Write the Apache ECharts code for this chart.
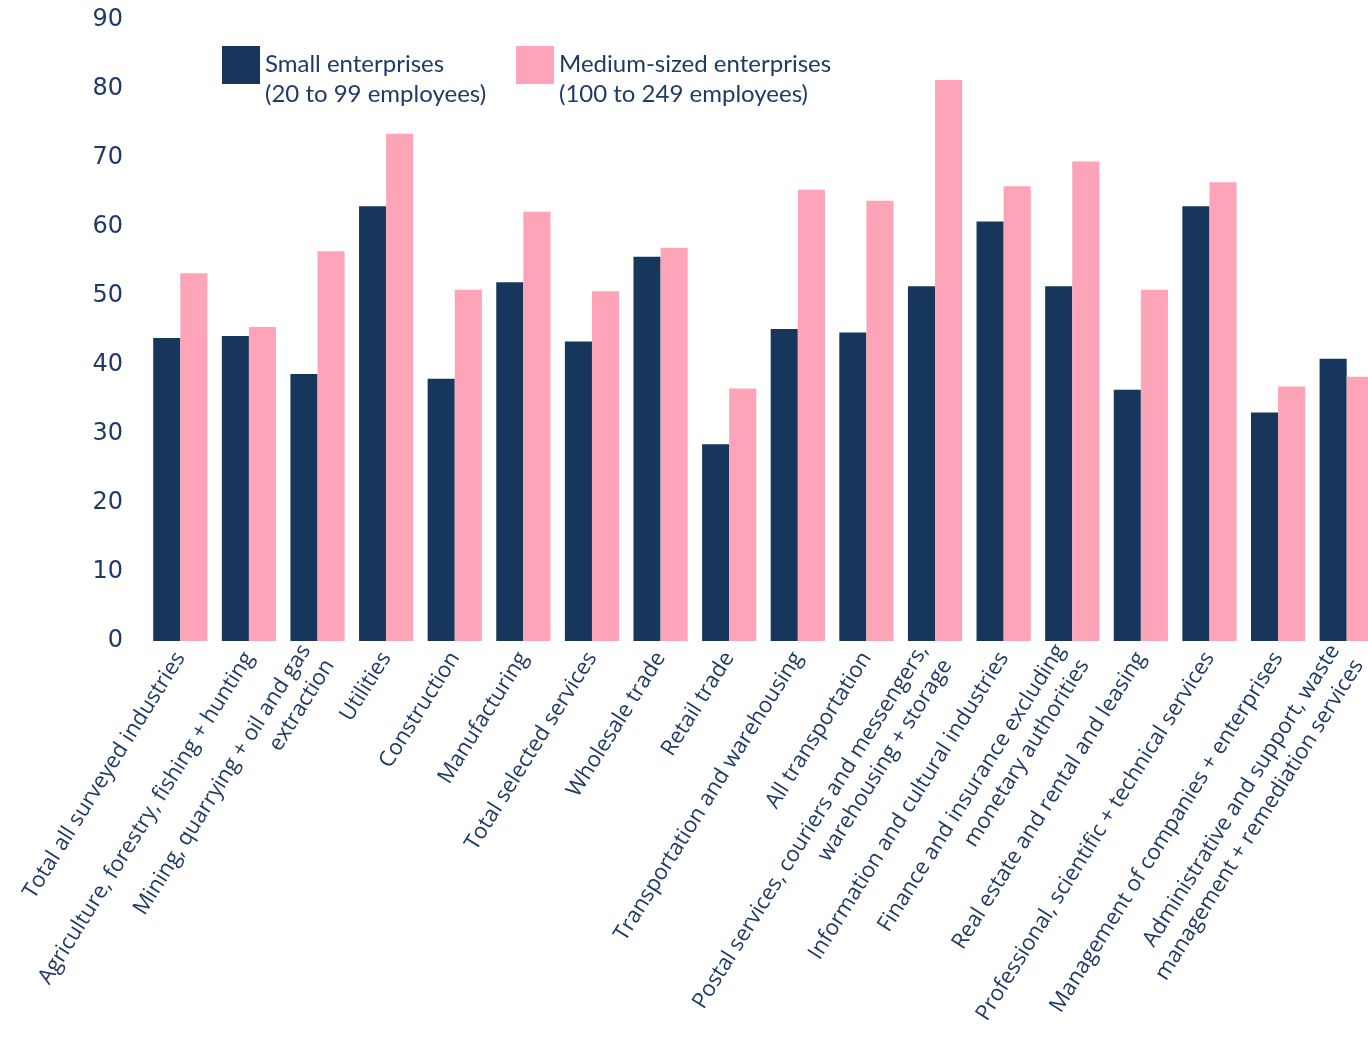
<!DOCTYPE html>
<html>
<head>
<meta charset="utf-8">
<script src="https://cdn.jsdelivr.net/npm/echarts@6/dist/echarts.min.js"></script>
<style>
html,body{margin:0;padding:0;background:#fff;}
#chart{width:1368px;height:1037px;}
</style>
</head>
<body>
<div id="chart"></div>
<script>
const categories = [
  "Total all surveyed industries",
  "Agriculture, forestry, fishing + hunting",
  "Mining, quarrying + oil and gas\nextraction",
  "Utilities",
  "Construction",
  "Manufacturing",
  "Total selected services",
  "Wholesale trade",
  "Retail trade",
  "Transportation and warehousing",
  "All transportation",
  "Postal services, couriers and messengers,\nwarehousing + storage",
  "Information and cultural industries",
  "Finance and insurance excluding\nmonetary authorities",
  "Real estate and rental and leasing",
  "Professional, scientific + technical services",
  "Management of companies + enterprises",
  "Administrative and support, waste\nmanagement + remediation services"
];
const smallValues  = [43.9, 44.2, 38.7, 63.0, 38.0, 52.0, 43.4, 55.7, 28.5, 45.2, 44.7, 51.4, 60.8, 51.4, 36.4, 63.0, 33.1, 40.9];
const mediumValues = [53.3, 45.5, 56.5, 73.5, 50.9, 62.2, 50.7, 57.0, 36.6, 65.4, 63.8, 81.3, 65.9, 69.5, 50.9, 66.5, 36.9, 38.3];
const seriesNames = ["Small enterprises\n(20 to 99 employees)", "Medium-sized enterprises\n(100 to 249 employees)"];
const yTicks = { min: 0, max: 90, interval: 10 };

const navy = "#17365c";
const pink = "#fda4b8";
const textColor = "#1e3a66";

const chart = echarts.init(document.getElementById('chart'));
const legendText = { color: textColor, fontFamily: "Lato", fontSize: 24, lineHeight: 30 };
const legendIcon = "path://M0,0H38V38H0Z M0,65.9H0.05V66H0Z";
chart.setOption({
  animation: false,
  backgroundColor: "#fff",
  grid: { left: 146, width: 1235, top: 20, bottom: 396, containLabel: false, outerBoundsMode: "none" },
  legend: [
    { data: [seriesNames[0]], left: 222, top: 46, padding: 0, itemWidth: 38, itemHeight: 66, icon: legendIcon,
      itemStyle: { borderWidth: 0 }, textStyle: legendText, selectedMode: false },
    { data: [seriesNames[1]], left: 516, top: 46, padding: 0, itemWidth: 38, itemHeight: 66, icon: legendIcon,
      itemStyle: { borderWidth: 0 }, textStyle: legendText, selectedMode: false }
  ],
  xAxis: {
    type: "category",
    data: categories,
    axisLine: { show: false },
    axisTick: { show: false },
    axisLabel: {
      interval: 0, rotate: 58, margin: 13,
      color: textColor, fontFamily: "Open Sans", fontSize: 22, lineHeight: 28
    }
  },
  yAxis: {
    type: "value",
    min: yTicks.min, max: yTicks.max, interval: yTicks.interval,
    axisLine: { show: false },
    axisTick: { show: false },
    splitLine: { show: false },
    axisLabel: { color: textColor, fontFamily: "DejaVu Sans", fontSize: 24, margin: 23 }
  },
  series: [
    { name: seriesNames[0], type: "bar", data: smallValues, itemStyle: { color: navy },
      barGap: "0%", barCategoryGap: "21%" },
    { name: seriesNames[1], type: "bar", data: mediumValues, itemStyle: { color: pink },
      barGap: "0%", barCategoryGap: "21%" }
  ]
});
</script>
</body>
</html>
